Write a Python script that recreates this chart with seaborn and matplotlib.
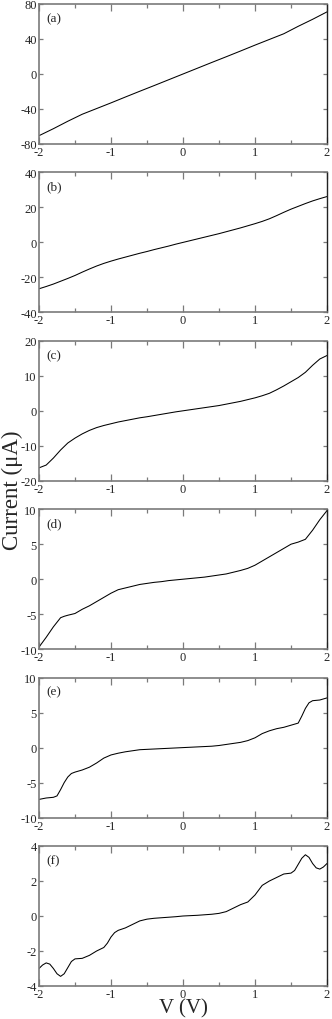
import matplotlib
matplotlib.use("Agg")
import matplotlib.pyplot as plt
from matplotlib.ticker import MultipleLocator
import seaborn as sns

# tensions (V) et courants (uA)
v_a = [-2.0, -1.8, -1.6, -1.4, -1.2, -1.0, -0.8, -0.6, -0.4, -0.2, 0.0,
       0.2, 0.4, 0.6, 0.8, 1.0, 1.2, 1.4, 1.6, 1.8, 2.0]
i_a = [-70.5, -62.5, -54.0, -46.0, -39.5, -33.0, -26.3, -19.7, -13.2, -6.6, 0.0,
       6.6, 13.2, 19.7, 26.3, 33.0, 39.5, 46.0, 54.5, 62.5, 71.0]

v_b = [-2.0, -1.9, -1.8, -1.7, -1.6, -1.5, -1.4, -1.3, -1.2, -1.1, -1.0,
       -0.9, -0.8, -0.7, -0.6, -0.5, -0.4, -0.3, -0.2, -0.1, 0.0,
       0.1, 0.2, 0.3, 0.4, 0.5, 0.6, 0.7, 0.8, 0.9, 1.0,
       1.1, 1.2, 1.3, 1.4, 1.5, 1.6, 1.7, 1.8, 1.9, 2.0]
i_b = [-26.5, -25.2, -23.8, -22.2, -20.6, -18.9, -17.0, -15.2, -13.5, -12.0, -10.7,
       -9.5, -8.4, -7.3, -6.2, -5.2, -4.1, -3.1, -2.1, -1.0, 0.0,
       1.0, 2.0, 3.0, 4.0, 5.0, 6.1, 7.2, 8.3, 9.5, 10.7,
       12.0, 13.5, 15.3, 17.2, 19.0, 20.6, 22.2, 23.7, 25.0, 26.2]

v_c = v_b
i_c = [-16.3, -15.5, -13.5, -11.2, -9.2, -7.8, -6.6, -5.6, -4.8, -4.2, -3.7,
       -3.2, -2.8, -2.4, -2.0, -1.7, -1.35, -1.0, -0.65, -0.3, 0.0,
       0.3, 0.6, 0.9, 1.2, 1.5, 1.9, 2.3, 2.7, 3.2, 3.7,
       4.3, 5.0, 6.0, 7.1, 8.3, 9.5, 11.0, 13.0, 14.8, 15.8]

v_d = [-2.0, -1.9, -1.8, -1.7, -1.65, -1.6, -1.5, -1.4, -1.3, -1.2, -1.1, -1.0,
       -0.9, -0.8, -0.7, -0.6, -0.5, -0.4, -0.3, -0.2, -0.1, 0.0,
       0.1, 0.2, 0.3, 0.4, 0.5, 0.6, 0.7, 0.8, 0.9, 1.0,
       1.1, 1.2, 1.3, 1.4, 1.5, 1.6, 1.7, 1.8, 1.9, 2.0]
i_d = [-9.7, -8.3, -6.8, -5.5, -5.3, -5.15, -4.9, -4.3, -3.8, -3.2, -2.6, -2.0,
       -1.5, -1.25, -1.0, -0.75, -0.6, -0.45, -0.35, -0.2, -0.1, 0.0,
       0.1, 0.2, 0.3, 0.45, 0.6, 0.75, 1.0, 1.25, 1.55, 2.0,
       2.6, 3.2, 3.8, 4.4, 5.0, 5.3, 5.7, 7.0, 8.5, 9.8]

v_e = [-2.0, -1.9, -1.8, -1.75, -1.7, -1.65, -1.6, -1.55, -1.5, -1.4, -1.3, -1.2,
       -1.1, -1.0, -0.9, -0.8, -0.7, -0.6, -0.5, -0.4, -0.3, -0.2, -0.1, 0.0,
       0.1, 0.2, 0.3, 0.4, 0.5, 0.6, 0.7, 0.8, 0.9, 1.0, 1.1, 1.2,
       1.3, 1.4, 1.5, 1.6, 1.65, 1.7, 1.75, 1.8, 1.9, 2.0]
i_e = [-7.4, -7.2, -7.1, -6.9, -6.0, -5.0, -4.2, -3.7, -3.5, -3.2, -2.8, -2.2,
       -1.5, -1.05, -0.8, -0.6, -0.45, -0.3, -0.25, -0.2, -0.15, -0.1, -0.05, 0.0,
       0.05, 0.1, 0.15, 0.2, 0.3, 0.45, 0.6, 0.75, 1.0, 1.4, 2.0, 2.4,
       2.7, 2.9, 3.2, 3.5, 4.5, 5.6, 6.4, 6.7, 6.8, 7.1]

v_f = [-2.0, -1.95, -1.9, -1.85, -1.8, -1.75, -1.7, -1.65, -1.6, -1.55, -1.5,
       -1.4, -1.3, -1.2, -1.1, -1.05, -1.0, -0.95, -0.9, -0.8, -0.7, -0.6,
       -0.5, -0.4, -0.3, -0.2, -0.1, 0.0, 0.1, 0.2, 0.3, 0.4, 0.5, 0.6,
       0.7, 0.8, 0.9, 1.0, 1.1, 1.2, 1.3, 1.4, 1.5, 1.55, 1.6, 1.65, 1.7,
       1.75, 1.8, 1.85, 1.9, 1.95, 2.0]
i_f = [-3.0, -2.8, -2.68, -2.75, -3.0, -3.3, -3.45, -3.3, -2.95, -2.6, -2.45,
       -2.42, -2.25, -2.0, -1.8, -1.55, -1.2, -0.95, -0.82, -0.68, -0.48, -0.28,
       -0.18, -0.13, -0.1, -0.07, -0.04, 0.0, 0.02, 0.04, 0.07, 0.1, 0.15, 0.25,
       0.45, 0.65, 0.8, 1.2, 1.75, 2.0, 2.2, 2.4, 2.45, 2.6, 2.95, 3.3, 3.5,
       3.35, 3.0, 2.75, 2.68, 2.8, 3.0]

panels = [("(a)", v_a, i_a, 80, 40),
          ("(b)", v_b, i_b, 40, 20),
          ("(c)", v_c, i_c, 20, 10),
          ("(d)", v_d, i_d, 10, 5),
          ("(e)", v_e, i_e, 10, 5),
          ("(f)", v_f, i_f, 4, 2)]

sns.set_style("ticks")
plt.rcParams['font.family'] = ['Liberation Serif', 'DejaVu Serif']
plt.rcParams['axes.unicode_minus'] = False

fig = plt.figure(figsize=(3.32, 10.2), dpi=100)
W, H = 332.0, 1020.0
spine_gray = "#7a7a7a"

for k, (lab, v, cur, lim, step) in enumerate(panels):
    top = 5 + 168.4 * k
    ax = fig.add_axes([39 / W, 1 - (top + 140) / H, 288 / W, 140 / H])
    sns.lineplot(x=v, y=cur, ax=ax, color="black", linewidth=0.75, sort=False)
    ax.xaxis.set_major_locator(MultipleLocator(1))
    ax.xaxis.set_minor_locator(MultipleLocator(0.5))
    ax.yaxis.set_major_locator(MultipleLocator(step))
    ax.set_xlim(-2, 2)
    ax.set_ylim(-lim, lim)
    ax.tick_params(axis="x", which="major", direction="in", length=5, width=0.9,
                   color=spine_gray, top=True, labelsize=9, pad=1.5)
    ax.tick_params(axis="x", which="minor", direction="in", length=3, width=0.9,
                   color=spine_gray, top=True)
    ax.tick_params(axis="y", which="major", direction="in", length=3, width=0.9,
                   color=spine_gray, right=True, labelsize=9, pad=1.5)
    for s in ["left", "bottom", "top"]:
        ax.spines[s].set_color(spine_gray)
        ax.spines[s].set_linewidth(1.2)
    ax.spines["right"].set_color("#222222")
    ax.spines["right"].set_linewidth(1.0)
    ax.set_xlabel("")
    ax.set_ylabel("")
    ax.text(0.025, 0.9, lab, transform=ax.transAxes, fontsize=9.5, ha="left", va="center")

fig.text(12 / W, 1 - 490 / H, "Current (μA)", rotation=90, fontsize=16.5,
         ha="center", va="center")
fig.text(183 / W, 1 - 1009 / H, "V (V)", fontsize=15, ha="center", va="center")

fig.savefig("out.png", dpi=100)
